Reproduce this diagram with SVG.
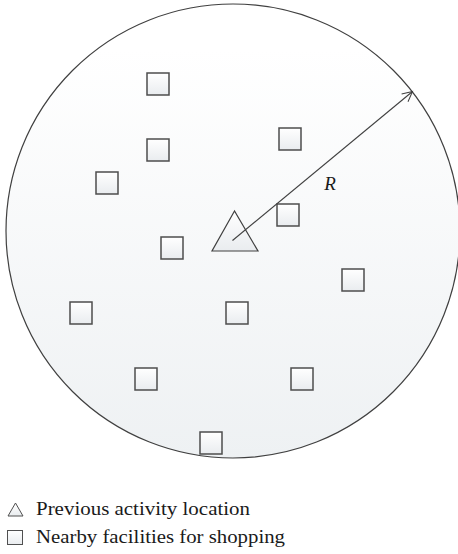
<svg xmlns="http://www.w3.org/2000/svg" width="458" height="554" viewBox="0 0 458 554">
<defs>
<linearGradient id="gc" x1="0" y1="0" x2="0" y2="1">
<stop offset="0.1" stop-color="#ffffff"/>
<stop offset="1" stop-color="#eef1f3"/>
</linearGradient>
<linearGradient id="gs" x1="0" y1="0" x2="0" y2="1">
<stop offset="0" stop-color="#ffffff"/>
<stop offset="1" stop-color="#e9ecef"/>
</linearGradient>
<marker id="ah" markerWidth="14" markerHeight="14" refX="12" refY="7" orient="auto" markerUnits="userSpaceOnUse">
<path d="M2,2 L12,7 L2,12" fill="none" stroke="#404040" stroke-width="1"/>
</marker>
<style>
.sq{fill:url(#gs);stroke:#4d4d4d;stroke-width:1.5}
.tri{fill:url(#gs);stroke:#404040;stroke-width:1.2}
.lbl{font-family:"Liberation Serif","Times New Roman",serif;fill:#1a1a1a}
</style>
</defs>
<g id="circle">
<circle cx="233" cy="231" r="227" fill="url(#gc)" stroke="#404040" stroke-width="1.2"/>
</g>
<g id="facilities">
<rect class="sq" x="147" y="73" width="22" height="22"/>
<rect class="sq" x="147" y="139" width="22" height="22"/>
<rect class="sq" x="96" y="172" width="22" height="22"/>
<rect class="sq" x="279" y="128" width="22" height="22"/>
<rect class="sq" x="277" y="204" width="22" height="22"/>
<rect class="sq" x="161" y="237" width="22" height="22"/>
<rect class="sq" x="342" y="269" width="22" height="22"/>
<rect class="sq" x="70" y="302" width="22" height="22"/>
<rect class="sq" x="226" y="302" width="22" height="22"/>
<rect class="sq" x="135" y="368" width="22" height="22"/>
<rect class="sq" x="291" y="368" width="22" height="22"/>
<rect class="sq" x="200" y="432" width="22" height="22"/>
</g>
<g id="activity">
<polygon class="tri" points="234.5,211 212,251 258,251"/>
</g>
<g id="connectors">
<line x1="232.5" y1="240.5" x2="412.5" y2="91.5" stroke="#404040" stroke-width="1.1" marker-end="url(#ah)"/>
</g>
<g id="radius-label">
<text class="lbl" x="330" y="190" font-size="19" font-style="italic" text-anchor="middle">R</text>
</g>
<g id="legend">
<polygon points="15.5,503 8,516 23,516" fill="url(#gs)" stroke="#505050" stroke-width="1"/>
<rect x="7.5" y="530.5" width="15" height="14" fill="url(#gs)" stroke="#505050" stroke-width="1"/>
<text class="lbl" x="36" y="515" font-size="18" textLength="214" lengthAdjust="spacingAndGlyphs">Previous activity location</text>
<text class="lbl" x="36" y="543" font-size="18" textLength="249" lengthAdjust="spacingAndGlyphs">Nearby facilities for shopping</text>
</g>
</svg>
